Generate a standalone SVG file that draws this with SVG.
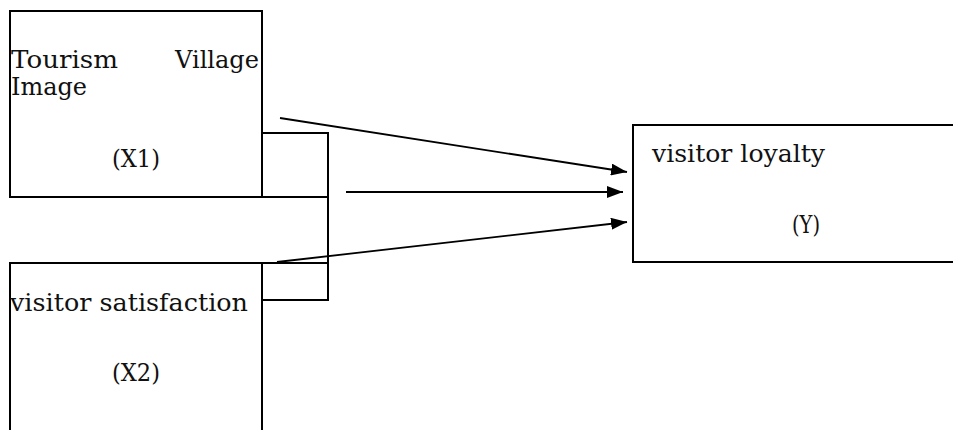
<svg xmlns="http://www.w3.org/2000/svg" width="953" height="430" viewBox="0 0 953 430">
  <style>
    .box { fill: none; stroke: #000; stroke-width: 2; }
    .link { fill: none; stroke: #000; stroke-width: 1.8; }
    .label { font-family: "DejaVu Serif", "Liberation Serif", serif; font-size: 24px; fill: #111; }
  </style>
  <defs>
    <marker id="arrow" viewBox="0 0 16 12" refX="16" refY="6" markerWidth="16" markerHeight="12" markerUnits="userSpaceOnUse" orient="auto">
      <path d="M0,0 L16,6 L0,12 Z" fill="#000"/>
    </marker>
  </defs>
  <rect width="953" height="430" fill="#fff"/>

  <g id="x1">
    <rect class="box" x="10" y="11" width="252" height="186"/>
    <text class="label" x="11" y="68" textLength="107" lengthAdjust="spacingAndGlyphs">Tourism</text>
    <text class="label" x="175" y="68" textLength="84" lengthAdjust="spacingAndGlyphs">Village</text>
    <text class="label" x="11" y="95" textLength="76" lengthAdjust="spacingAndGlyphs">Image</text>
    <text class="label" x="112" y="167" textLength="48" lengthAdjust="spacingAndGlyphs">(X1)</text>
  </g>

  <g id="x2">
    <path class="box" d="M10,432 V263 H262 V432"/>
    <text class="label" x="10" y="311" textLength="238" lengthAdjust="spacingAndGlyphs">visitor satisfaction</text>
    <text class="label" x="112" y="381" textLength="48" lengthAdjust="spacingAndGlyphs">(X2)</text>
  </g>

  <g id="y">
    <path class="box" d="M955,125 H633 V262 H955"/>
    <text class="label" x="652" y="162" textLength="173" lengthAdjust="spacingAndGlyphs">visitor loyalty</text>
    <text class="label" x="792" y="233" textLength="28" lengthAdjust="spacingAndGlyphs">(Y)</text>
  </g>

  <g id="connectors">
    <!-- bracket joining both independent variables -->
    <path class="box" d="M262,133 H328 V300 H262"/>
    <line class="box" x1="262" y1="197" x2="328" y2="197"/>
    <line class="box" x1="262" y1="263" x2="328" y2="263"/>
    <!-- paths into the dependent variable -->
    <line class="link" x1="280" y1="118" x2="627" y2="172" marker-end="url(#arrow)"/>
    <line class="link" x1="346" y1="192" x2="623" y2="192" marker-end="url(#arrow)"/>
    <line class="link" x1="277" y1="262" x2="627" y2="222" marker-end="url(#arrow)"/>
  </g>
</svg>
